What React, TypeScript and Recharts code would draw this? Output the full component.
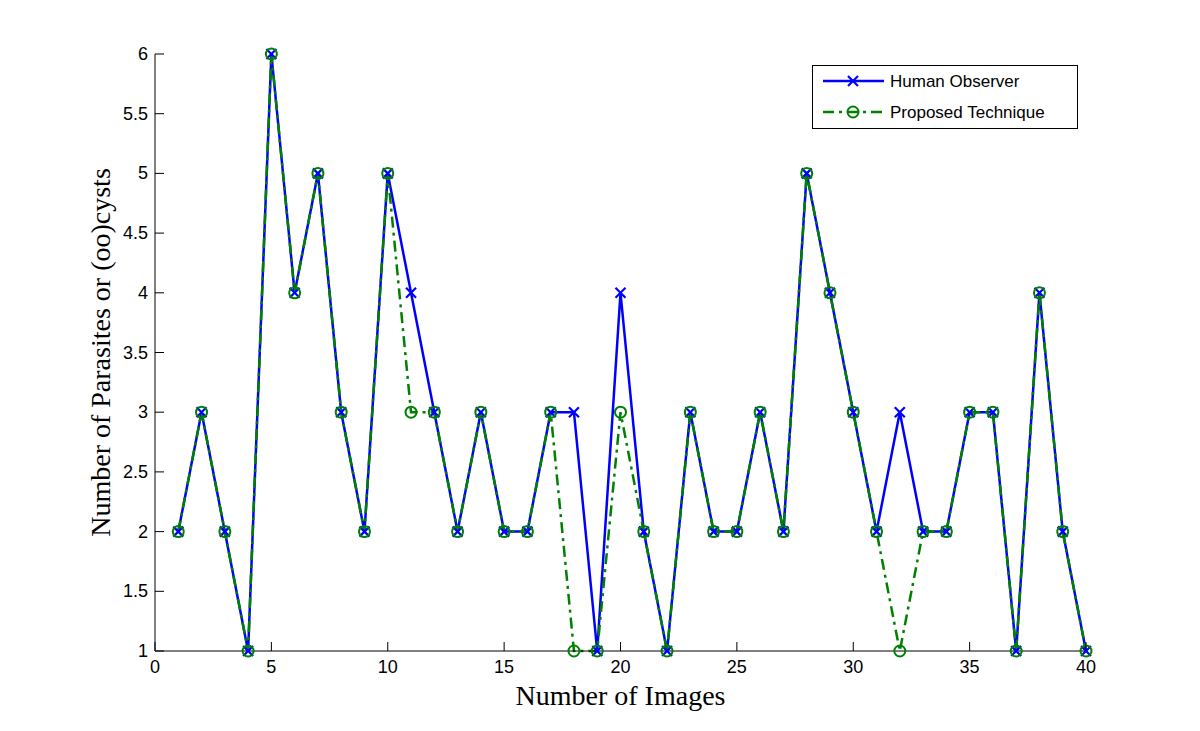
import { Label, Legend, Line, LineChart, XAxis, YAxis } from "recharts";

const images = Array.from({ length: 40 }, (_, i) => i + 1);
const humanObserver = [2, 3, 2, 1, 6, 4, 5, 3, 2, 5, 4, 3, 2, 3, 2, 2, 3, 3, 1, 4, 2, 1, 3, 2, 2, 3, 2, 5, 4, 3, 2, 3, 2, 2, 3, 3, 1, 4, 2, 1];
const proposedTechnique = [2, 3, 2, 1, 6, 4, 5, 3, 2, 5, 3, 3, 2, 3, 2, 2, 3, 1, 1, 3, 2, 1, 3, 2, 2, 3, 2, 5, 4, 3, 2, 1, 2, 2, 3, 3, 1, 4, 2, 1];
const xTicks = [0, 5, 10, 15, 20, 25, 30, 35, 40];
const yTicks = [1, 1.5, 2, 2.5, 3, 3.5, 4, 4.5, 5, 5.5, 6];

const data = images.map((n, i) => ({
  image: n,
  human: humanObserver[i],
  proposed: proposedTechnique[i],
}));

const BLUE = "#0000ff";
const GREEN = "#008000";
const TICK_FONT = "'Liberation Sans', Arial, sans-serif";
const LABEL_FONT = "'Liberation Serif', 'Times New Roman', serif";
const DASH_DOT = "11 5 3 5";
const TICK_LEN = 9;
const GAP = 7;

function CrossDot(props: any) {
  const { cx, cy } = props;
  if (cx == null || cy == null) return null;
  const s = 5;
  return (
    <g stroke={BLUE} strokeWidth={2.2}>
      <line x1={cx - s} y1={cy - s} x2={cx + s} y2={cy + s} />
      <line x1={cx - s} y1={cy + s} x2={cx + s} y2={cy - s} />
    </g>
  );
}

function CircleDot(props: any) {
  const { cx, cy } = props;
  if (cx == null || cy == null) return null;
  return <circle cx={cx} cy={cy} r={5.5} fill="none" stroke={GREEN} strokeWidth={2} />;
}

function BottomTick(props: any) {
  const { x, y, payload } = props;
  return (
    <g>
      <line x1={x} y1={y - GAP} x2={x} y2={y - GAP - TICK_LEN} stroke="#000" strokeWidth={1} />
      <text x={x} y={y} dy={15} textAnchor="middle" fontFamily={TICK_FONT} fontSize={18} fill="#000">
        {payload.value}
      </text>
    </g>
  );
}

function LeftTick(props: any) {
  const { x, y, payload } = props;
  return (
    <g>
      <line x1={x + GAP} y1={y} x2={x + GAP + TICK_LEN} y2={y} stroke="#000" strokeWidth={1} />
      <text x={x} y={y} dy={6} textAnchor="end" fontFamily={TICK_FONT} fontSize={18} fill="#000">
        {payload.value}
      </text>
    </g>
  );
}

function TopTick(props: any) {
  const { x, y } = props;
  return <line x1={x} y1={y} x2={x} y2={y + TICK_LEN} stroke="#000" strokeWidth={1} />;
}

function RightTick(props: any) {
  const { x, y } = props;
  return <line x1={x} y1={y} x2={x - TICK_LEN} y2={y} stroke="#000" strokeWidth={1} />;
}

function LegendBox() {
  return (
    <svg width={266} height={64} style={{ display: "block" }}>
      <rect x={0.5} y={0.5} width={265} height={63} fill="#fff" stroke="#000" strokeWidth={1} />
      <line x1={11} y1={16} x2={72} y2={16} stroke={BLUE} strokeWidth={2.5} />
      <CrossDot cx={41} cy={16} />
      <text x={78} y={22} fontFamily={TICK_FONT} fontSize={17} fill="#000">
        Human Observer
      </text>
      <line x1={11} y1={47} x2={72} y2={47} stroke={GREEN} strokeWidth={2.5} strokeDasharray={DASH_DOT} />
      <CircleDot cx={41} cy={47} />
      <text x={78} y={53} fontFamily={TICK_FONT} fontSize={17} fill="#000">
        Proposed Technique
      </text>
    </svg>
  );
}

export default function App() {
  return (
    <div style={{ position: "absolute", left: 0, top: 0, width: 1200, height: 731, background: "#fff" }}>
      <LineChart
        width={1200}
        height={731}
        data={data}
        margin={{ top: 54, right: 114, bottom: 50, left: 95 }}
      >
        <XAxis
          xAxisId="bottom"
          dataKey="image"
          type="number"
          domain={[0, 40]}
          ticks={xTicks}
          interval={0}
          height={30}
          tickSize={0}
          tickMargin={GAP}
          tick={<BottomTick />}
          axisLine={{ stroke: "#000" }}
          tickLine={false}
        >
          <Label
            value="Number of Images"
            position="bottom"
            offset={4}
            style={{ fontFamily: LABEL_FONT, fontSize: 28, fill: "#000" }}
          />
        </XAxis>
        <XAxis
          xAxisId="top"
          orientation="top"
          dataKey="image"
          type="number"
          domain={[0, 40]}
          ticks={xTicks}
          interval={0}
          height={0}
          tickSize={0}
          tickMargin={0}
          tick={<TopTick />}
          axisLine={{ stroke: "#000" }}
          tickLine={false}
        />
        <YAxis
          yAxisId="left"
          type="number"
          domain={[1, 6]}
          ticks={yTicks}
          interval={0}
          width={60}
          tickSize={0}
          tickMargin={GAP}
          tick={<LeftTick />}
          axisLine={{ stroke: "#000" }}
          tickLine={false}
        >
          <Label
            value="Number of Parasites or (oo)cysts"
            angle={-90}
            position="insideLeft"
            offset={5}
            style={{ fontFamily: LABEL_FONT, fontSize: 28, fill: "#000", textAnchor: "middle" }}
          />
        </YAxis>
        <YAxis
          yAxisId="right"
          orientation="right"
          type="number"
          domain={[1, 6]}
          ticks={yTicks}
          interval={0}
          width={0}
          tickSize={0}
          tickMargin={0}
          tick={<RightTick />}
          axisLine={{ stroke: "#000" }}
          tickLine={false}
        />
        <Legend
          layout="vertical"
          align="center"
          verticalAlign="middle"
          content={() => <LegendBox />}
          wrapperStyle={{ position: "absolute", left: 812, top: 65, width: 266, height: 64 }}
        />
        <Line
          xAxisId="bottom"
          yAxisId="left"
          type="linear"
          dataKey="human"
          name="Human Observer"
          stroke={BLUE}
          strokeWidth={2.5}
          dot={<CrossDot />}
          activeDot={false}
          isAnimationActive={false}
        />
        <Line
          xAxisId="bottom"
          yAxisId="left"
          type="linear"
          dataKey="proposed"
          name="Proposed Technique"
          stroke={GREEN}
          strokeWidth={2.5}
          strokeDasharray={DASH_DOT}
          dot={<CircleDot />}
          activeDot={false}
          isAnimationActive={false}
        />
      </LineChart>
    </div>
  );
}
